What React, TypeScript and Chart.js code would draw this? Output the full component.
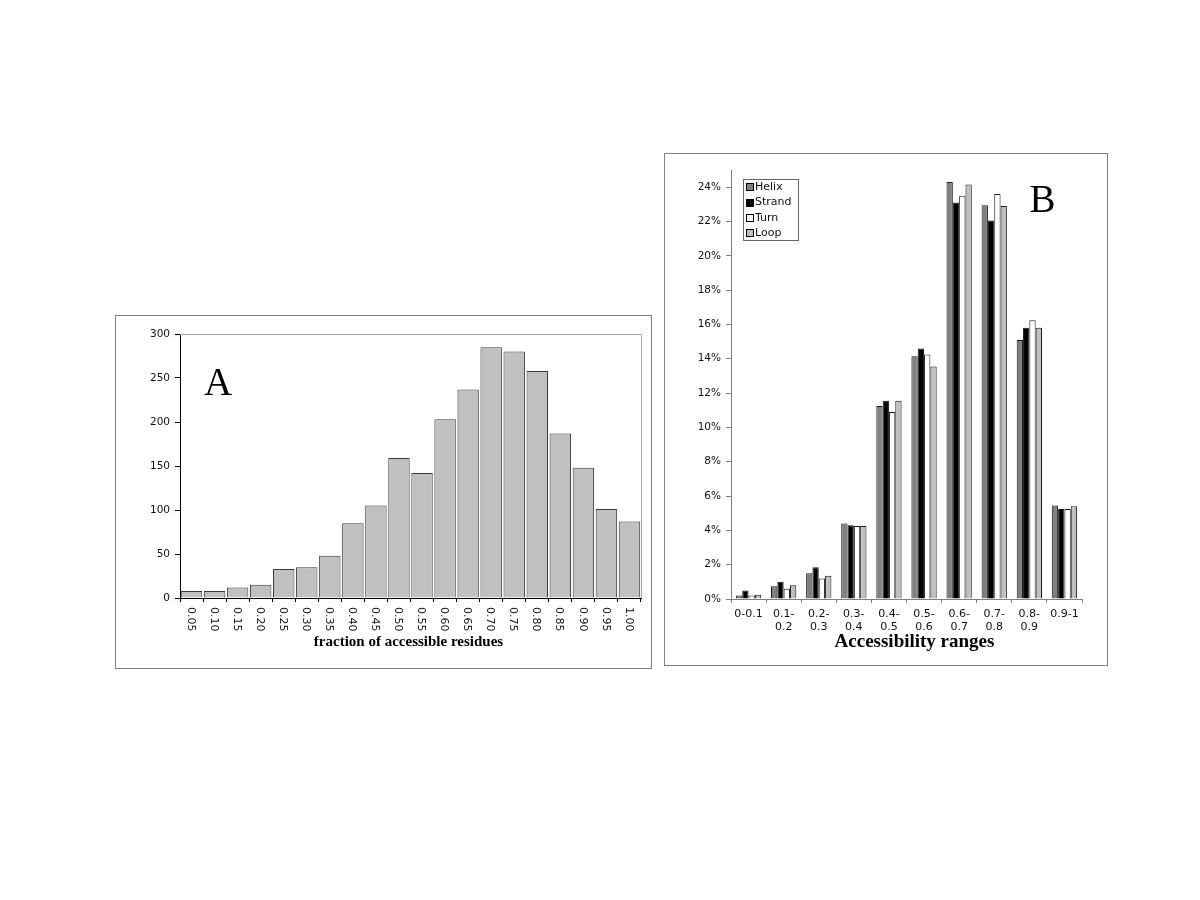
import React, { useEffect, useRef } from "react";
import { Chart, registerables } from "chart.js";

Chart.register(...registerables);

// ---------- Data: chart A ----------
const fractionLabels = [
  "0.05", "0.10", "0.15", "0.20", "0.25", "0.30", "0.35", "0.40", "0.45", "0.50",
  "0.55", "0.60", "0.65", "0.70", "0.75", "0.80", "0.85", "0.90", "0.95", "1.00",
];
const residueCounts = [8, 8, 12, 15, 33, 35, 48, 85, 105, 159, 142, 203, 237, 285, 280, 258, 187, 148, 101, 87];
const countTickMax = 300;
const countTickStep = 50;

// ---------- Data: chart B ----------
const rangeLabels = [
  ["0-0.1"], ["0.1-", "0.2"], ["0.2-", "0.3"], ["0.3-", "0.4"], ["0.4-", "0.5"],
  ["0.5-", "0.6"], ["0.6-", "0.7"], ["0.7-", "0.8"], ["0.8-", "0.9"], ["0.9-1"],
];
const helixPct = [0.2, 0.75, 1.5, 4.4, 11.25, 14.15, 24.3, 22.95, 15.1, 5.45];
const strandPct = [0.5, 1.0, 1.85, 4.3, 11.55, 14.6, 23.1, 22.05, 15.8, 5.25];
const turnPct = [0.2, 0.6, 1.2, 4.25, 10.9, 14.25, 23.5, 23.6, 16.25, 5.25];
const loopPct = [0.25, 0.8, 1.35, 4.25, 11.55, 13.55, 24.15, 22.9, 15.8, 5.4];
const seriesNames = ["Helix", "Strand", "Turn", "Loop"];
const seriesColors = ["#808080", "#000000", "#ffffff", "#c0c0c0"];
const pctAxisMax = 25;
const pctTickStep = 2;

const SANS = '"DejaVu Sans", Verdana, sans-serif';
const SERIF = '"Liberation Serif", "Times New Roman", serif';

const chartAPlugin = {
  id: "chartAExtras",
  afterDraw(chart: any) {
    const ctx = chart.ctx;
    const area = chart.chartArea;
    const xs = chart.scales.x;
    ctx.save();
    // plot-area border (top & right)
    ctx.strokeStyle = "#a8a8a8";
    ctx.lineWidth = 1;
    ctx.beginPath();
    ctx.moveTo(area.left, Math.round(area.top) + 0.5);
    ctx.lineTo(Math.round(area.right) + 0.5, Math.round(area.top) + 0.5);
    ctx.lineTo(Math.round(area.right) + 0.5, area.bottom);
    ctx.stroke();
    // rotated tick labels (reading top to bottom)
    ctx.fillStyle = "#111";
    ctx.font = `11px ${SANS}`;
    const labels = chart.data.labels;
    labels.forEach((lab: string, i: number) => {
      const x = xs.getPixelForValue(i);
      ctx.save();
      ctx.translate(x - 1, area.bottom + 9);
      ctx.rotate(Math.PI / 2);
      ctx.textAlign = "left";
      ctx.textBaseline = "middle";
      ctx.fillText(lab, 0, 0);
      ctx.restore();
    });
    // axis title
    ctx.fillStyle = "#000";
    ctx.font = `bold 15px ${SERIF}`;
    ctx.textAlign = "center";
    ctx.textBaseline = "alphabetic";
    ctx.fillText("fraction of accessible residues", (area.left + area.right) / 2 - 2, 330);
    // panel letter
    ctx.font = `39px ${SERIF}`;
    ctx.fillText("A", 102, 79);
    ctx.restore();
  },
};

const chartBPlugin = {
  id: "chartBExtras",
  afterDraw(chart: any) {
    const ctx = chart.ctx;
    const area = chart.chartArea;
    ctx.save();
    // legend box
    ctx.fillStyle = "#fff";
    ctx.fillRect(78, 25, 55, 61);
    ctx.strokeStyle = "#666";
    ctx.lineWidth = 1;
    ctx.strokeRect(78.5, 25.5, 55, 61);
    chart.data.datasets.forEach((ds: any, i: number) => {
      const cy = 32.7 + i * 15.3;
      ctx.fillStyle = ds.backgroundColor;
      ctx.fillRect(81, Math.round(cy - 3.5), 7, 7);
      ctx.strokeStyle = "#000";
      ctx.strokeRect(81.5, Math.round(cy - 3.5) + 0.5, 7, 7);
      ctx.fillStyle = "#111";
      ctx.font = `11px ${SANS}`;
      ctx.textAlign = "left";
      ctx.textBaseline = "middle";
      ctx.fillText(ds.label, 90, cy + 0.5);
    });
    // axis title
    ctx.fillStyle = "#000";
    ctx.font = `bold 19px ${SERIF}`;
    ctx.textAlign = "center";
    ctx.textBaseline = "alphabetic";
    ctx.fillText("Accessibility ranges", (area.left + area.right) / 2 + 8, 493);
    // panel letter
    ctx.font = `39px ${SERIF}`;
    ctx.fillText("B", 377.5, 58);
    ctx.restore();
  },
};

function ChartA() {
  const ref = useRef<HTMLCanvasElement>(null);
  useEffect(() => {
    const chart = new Chart(ref.current as HTMLCanvasElement, {
      type: "bar",
      data: {
        labels: fractionLabels,
        datasets: [
          {
            label: "count",
            data: residueCounts,
            backgroundColor: "#c0c0c0",
            borderColor: "#3a3a3a",
            borderWidth: 1,
            barPercentage: 0.93,
            categoryPercentage: 1,
          },
        ],
      },
      options: {
        responsive: false,
        animation: false,
        layout: { padding: { top: 18, right: 10, left: 0, bottom: 0 } },
        plugins: { legend: { display: false }, tooltip: { enabled: false } },
        scales: {
          x: {
            ticks: { display: false },
            grid: { drawOnChartArea: false, drawTicks: true, tickLength: 4, color: "#000", offset: true },
            border: { color: "#000", width: 1 },
            afterFit: (s: any) => { s.height = 70; },
          },
          y: {
            min: 0,
            max: countTickMax,
            ticks: { stepSize: countTickStep, color: "#111", font: { family: SANS, size: 10.5 }, padding: 5 },
            grid: { drawOnChartArea: false, drawTicks: true, tickLength: 5, color: "#000" },
            border: { color: "#000", width: 1 },
            afterFit: (s: any) => { s.width = 64; },
          },
        },
      },
      plugins: [chartAPlugin],
    } as any);
    return () => chart.destroy();
  }, []);
  return <canvas ref={ref} width={535} height={352} style={{ display: "block" }} />;
}

function ChartB() {
  const ref = useRef<HTMLCanvasElement>(null);
  useEffect(() => {
    const series = [helixPct, strandPct, turnPct, loopPct];
    const chart = new Chart(ref.current as HTMLCanvasElement, {
      type: "bar",
      data: {
        labels: rangeLabels,
        datasets: series.map((d, i) => ({
          label: seriesNames[i],
          data: d,
          backgroundColor: seriesColors[i],
          borderColor: "#1a1a1a",
          borderWidth: 1,
          barPercentage: 1,
          categoryPercentage: 0.72,
        })),
      },
      options: {
        responsive: false,
        animation: false,
        layout: { padding: { top: 16, right: 25, left: 0, bottom: 0 } },
        plugins: { legend: { display: false }, tooltip: { enabled: false } },
        scales: {
          x: {
            ticks: { color: "#111", font: { family: SANS, size: 11, lineHeight: 1.22 }, padding: 4, maxRotation: 0, minRotation: 0, autoSkip: false },
            grid: { drawOnChartArea: false, drawTicks: true, tickLength: 4, color: "#808080", offset: true },
            border: { color: "#808080", width: 1 },
            afterFit: (s: any) => { s.height = 66; },
          },
          y: {
            min: 0,
            max: pctAxisMax,
            ticks: {
              stepSize: pctTickStep,
              color: "#111",
              font: { family: SANS, size: 10.5 },
              padding: 5,
              callback: (v: any) => `${v}%`,
            },
            afterBuildTicks: (s: any) => {
              s.ticks = s.ticks.filter((t: any) => Math.abs(t.value % pctTickStep) < 1e-6);
            },
            grid: { drawOnChartArea: false, drawTicks: true, tickLength: 5, color: "#808080" },
            border: { color: "#808080", width: 1 },
            afterFit: (s: any) => { s.width = 66; },
          },
        },
      },
      plugins: [chartBPlugin],
    } as any);
    return () => chart.destroy();
  }, []);
  return <canvas ref={ref} width={442} height={511} style={{ display: "block" }} />;
}

export default function App() {
  const frame: React.CSSProperties = {
    position: "absolute",
    border: "1px solid #808080",
    boxSizing: "border-box",
    background: "#fff",
  };
  return (
    <div>
      <div style={{ ...frame, left: 115, top: 315, width: 537, height: 354 }}>
        <ChartA />
      </div>
      <div style={{ ...frame, left: 664, top: 153, width: 444, height: 513 }}>
        <ChartB />
      </div>
    </div>
  );
}
